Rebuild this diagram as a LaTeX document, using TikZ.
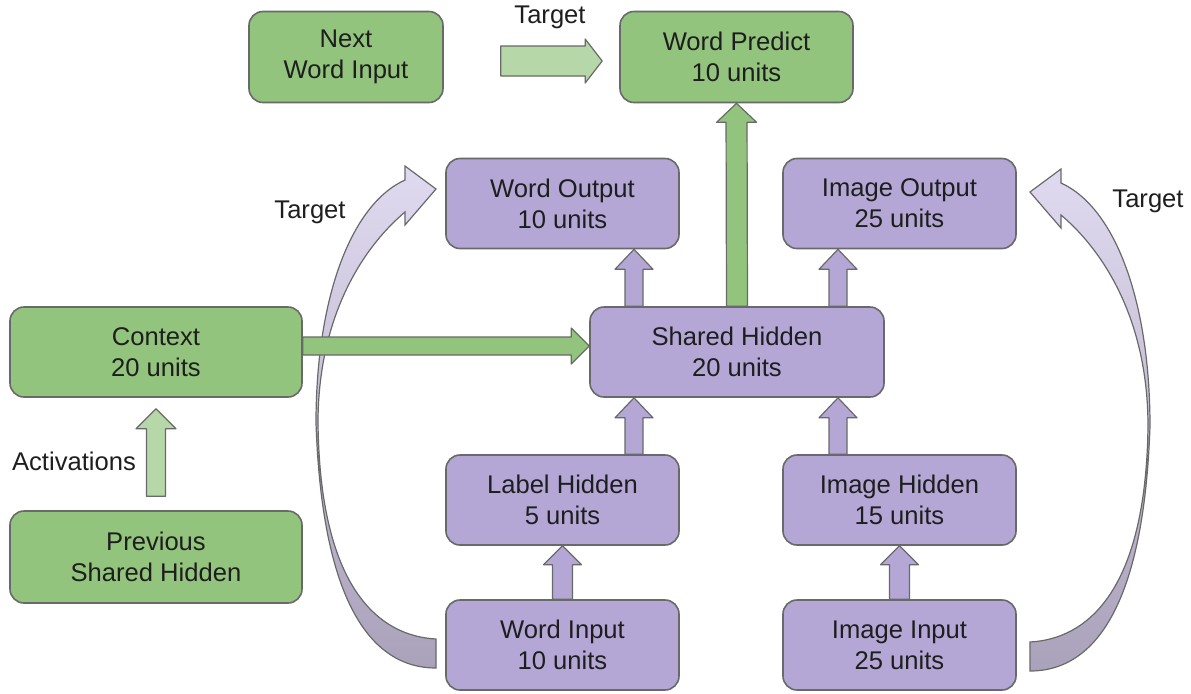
\documentclass[tikz,border=0pt]{standalone}
\usepackage{fontspec}
\setmainfont{Liberation Sans}
\usetikzlibrary{calc}
\definecolor{boxgreen}{RGB}{147,196,125}
\definecolor{lightgreen}{RGB}{182,215,168}
\definecolor{boxpurple}{RGB}{180,167,214}
\definecolor{edgegray}{RGB}{105,105,105}
\definecolor{curvetop}{RGB}{224,218,240}
\definecolor{curvebottom}{RGB}{170,162,186}
\definecolor{textdark}{RGB}{30,30,30}

% block arrow: [style]{from}{to}{shaft half width}{head half width}{head length}
\newcommand\blockarrow[6][]{%
  \coordinate (bahead) at ($(#3)!#6!(#2)$);
  \draw[#1] ($(#2)!#4!90:(#3)$) -- ($(bahead)!#4!90:(#3)$) -- ($(bahead)!#5!90:(#3)$)
    -- (#3) -- ($(bahead)!#5!-90:(#3)$) -- ($(bahead)!#4!-90:(#3)$) -- ($(#2)!#4!-90:(#3)$) -- cycle;
}
% curved target arrow, in pixel coordinates
\newcommand\targetcurve{%
  \draw[curvearrow] (436,639) .. controls (380,636) and (320,590) .. (318,423)
    .. controls (318,320) and (360,250) .. (405,212)
    -- (405,225) -- (436,189) -- (405,166) -- (405,180)
    .. controls (350,205) and (316,300) .. (316,423)
    .. controls (322,600) and (370,668) .. (436,668) -- cycle;
}

\begin{document}
\begin{tikzpicture}[x=0.5pt,y=-0.5pt,
  unit/.style={draw=edgegray,line width=0.8pt,rounded corners=7pt,align=center,
    text=textdark,font=\fontsize{12.8}{15.5}\selectfont,inner sep=0pt},
  greenunit/.style={unit,fill=boxgreen},
  purpleunit/.style={unit,fill=boxpurple,minimum width=116.5pt,minimum height=45pt},
  label/.style={text=textdark,font=\fontsize{12.8}{15.5}\selectfont},
  arrowline/.style={draw=edgegray,line width=0.6pt,line join=round},
  greenarrow/.style={arrowline,fill=boxgreen},
  palearrow/.style={arrowline,fill=lightgreen},
  purplearrow/.style={arrowline,fill=boxpurple},
  curvearrow/.style={draw=edgegray,line width=0.6pt,top color=curvetop,bottom color=curvebottom}
]
\useasboundingbox (0,0) rectangle (1191,693);

% curved target arrows
\targetcurve
\begin{scope}[xshift=733pt,yshift=-1.5pt,xscale=-1]
  \targetcurve
\end{scope}

% units
\node[greenunit,minimum width=97pt,minimum height=45.5pt] (nwi) at (346,57) {Next\\Word Input};
\node[greenunit,minimum width=116.5pt,minimum height=45.5pt] (wp) at (736.5,57) {Word Predict\\10 units};
\node[purpleunit] (wo) at (562.5,203.5) {Word Output\\10 units};
\node[purpleunit] (io) at (899.5,203.5) {Image Output\\25 units};
\node[greenunit,minimum width=146pt,minimum height=45pt] (ctx) at (156,352) {Context\\20 units};
\node[purpleunit,minimum width=147pt] (sh) at (737,352) {Shared Hidden\\20 units};
\node[purpleunit] (lh) at (562.5,500) {Label Hidden\\5 units};
\node[purpleunit] (ih) at (899.5,500) {Image Hidden\\15 units};
\node[greenunit,minimum width=146pt,minimum height=46pt] (psh) at (156,557) {Previous\\Shared Hidden};
\node[purpleunit] (wi) at (562.5,645) {Word Input\\10 units};
\node[purpleunit] (ii) at (899.5,645) {Image Input\\25 units};

% labels
\node[label] (tgtop) at (550,17) {Target};
\node[label] (tgleft) at (310,212) {Target};
\node[label] (tgright) at (1148,201) {Target};
\node[label] (act) at (74,461) {Activations};

% straight arrows
\coordinate (tgs) at ([xshift=28.5pt,yshift=-2pt]nwi.east);
\coordinate (tge) at ([xshift=-8.5pt,yshift=-2pt]wp.west);
\blockarrow[palearrow]{tgs}{tge}{7.5pt}{11pt}{8.5pt}

\blockarrow[greenarrow]{sh.north}{wp.south}{5.25pt}{10pt}{9.5pt}

\coordinate (s1) at ([xshift=-51.5pt]sh.north);
\coordinate (e1) at (s1 |- wo.south);
\coordinate (s2) at ([xshift=50.5pt]sh.north);
\coordinate (e2) at (s2 |- io.south);
\coordinate (s3) at (s1 |- lh.north);
\coordinate (e3) at (s1 |- sh.south);
\coordinate (s4) at (s2 |- ih.north);
\coordinate (e4) at (s2 |- sh.south);
\blockarrow[purplearrow]{s1}{e1}{4.5pt}{9.5pt}{10pt}
\blockarrow[purplearrow]{s2}{e2}{4.5pt}{9.5pt}{10pt}
\blockarrow[purplearrow]{s3}{e3}{4.5pt}{9.5pt}{10pt}
\blockarrow[purplearrow]{s4}{e4}{4.5pt}{9.5pt}{10pt}
\blockarrow[purplearrow]{wi.north}{lh.south}{5pt}{9.5pt}{9.5pt}
\blockarrow[purplearrow]{ii.north}{ih.south}{5pt}{9.5pt}{9.5pt}

\coordinate (cs) at ([yshift=3pt]ctx.east);
\coordinate (ce) at (cs -| sh.west);
\blockarrow[greenarrow]{cs}{ce}{4.5pt}{9pt}{9pt}

\coordinate (as) at ([yshift=7pt]psh.north);
\coordinate (ae) at ([yshift=-5.5pt]ctx.south);
\blockarrow[palearrow]{as}{ae}{4.75pt}{10pt}{10pt}
\end{tikzpicture}
\end{document}
